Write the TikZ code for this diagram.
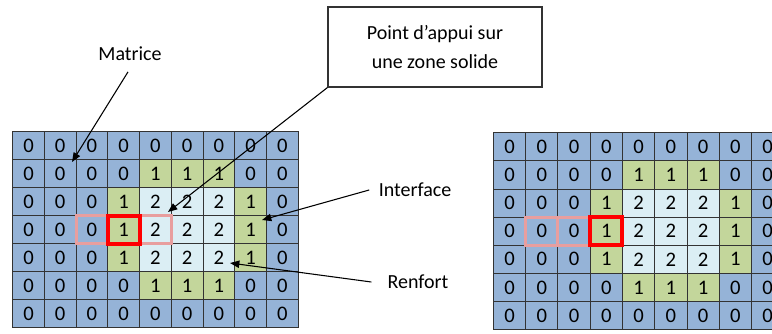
\documentclass[tikz,border=0pt]{standalone}
\usepackage{fontspec}
\setmainfont{Carlito}
\usetikzlibrary{arrows.meta}
\definecolor{zoneblue}{RGB}{149,179,215}
\definecolor{zonegreen}{RGB}{195,214,155}
\definecolor{zonelight}{RGB}{219,238,244}
\definecolor{appuipink}{RGB}{232,158,158}
\tikzset{
  cell/.style={minimum width=23.8pt, minimum height=21pt, inner sep=0pt, outer sep=0pt, draw=black!80, line width=0.7pt, font=\fontsize{15.5}{17}\selectfont},
  cell0/.style={cell, fill=zoneblue},
  cell1/.style={cell, fill=zonegreen},
  cell2/.style={cell, fill=zonelight},
  legende/.style={font=\fontsize{15}{21.75}\selectfont, inner sep=2pt},
  pointer/.style={-{Triangle[length=7pt,width=5.5pt]}, line width=0.8pt},
  voisin/.style={draw=appuipink, line width=2.2pt},
  appui/.style={draw=red, line width=3pt}
}
\newcommand{\zonegrid}[1]{%
  \foreach \ligne [count=\rw from 0] in {{0,0,0,0,0,0,0,0,0},{0,0,0,0,1,1,1,0,0},{0,0,0,1,2,2,2,1,0},{0,0,0,1,2,2,2,1,0},{0,0,0,1,2,2,2,1,0},{0,0,0,0,1,1,1,0,0},{0,0,0,0,0,0,0,0,0}}
    \foreach \v [count=\cl from 0] in \ligne
      \node[cell\v] (#1-\rw-\cl) at (\cl,\rw) {\v};%
}
\begin{document}
\begin{tikzpicture}[x=0.75pt,y=-0.75pt]
\useasboundingbox (0,0) rectangle (772,333);
\clip (0,0) rectangle (772,333);
% left grid
\begin{scope}[shift={(28.5,145.7)},x=23.8pt,y=-21pt]
\zonegrid{a}
\end{scope}
\draw[voisin] (a-3-2.north west) rectangle (a-3-2.south east);
\draw[voisin] (a-3-4.north west) rectangle (a-3-4.south east);
\draw[appui] (a-3-3.north west) rectangle (a-3-3.south east);
% right grid
\begin{scope}[shift={(509.5,146.8)},x=24.2pt,y=-21.1pt,cell/.append style={minimum width=24.2pt,minimum height=21.1pt}]
\zonegrid{b}
\end{scope}
\draw[voisin] (b-3-1.north west) rectangle (b-3-1.south east);
\draw[voisin] (b-3-2.north west) rectangle (b-3-2.south east);
\draw[appui] (b-3-3.north west) rectangle (b-3-3.south east);
% labels
\node[legende] (matrice) at (130,54) {Matrice};
\node[legende,draw=black!80,line width=0.8pt,align=center,minimum width=160.5pt,minimum height=60pt] (appuibox) at (435,47) {Point d’appui sur\\une zone solide};
\node[legende] (interface) at (415,190) {Interface};
\node[legende] (renfort) at (418,282) {Renfort};
\coordinate (matrice-pt) at (72,162);
\coordinate (appui-pt) at (168,212);
\coordinate (interface-pt) at (262,220);
\coordinate (renfort-pt) at (230,263);
\draw[pointer] ([xshift=-1.5pt,yshift=-6pt]matrice.south) -- (matrice-pt);
\draw[pointer] (appuibox.south west) -- (appui-pt);
\draw[pointer] ([xshift=-5pt]interface.west) -- (interface-pt);
\draw[pointer] ([xshift=-10pt]renfort.west) -- (renfort-pt);
\end{tikzpicture}
\end{document}
